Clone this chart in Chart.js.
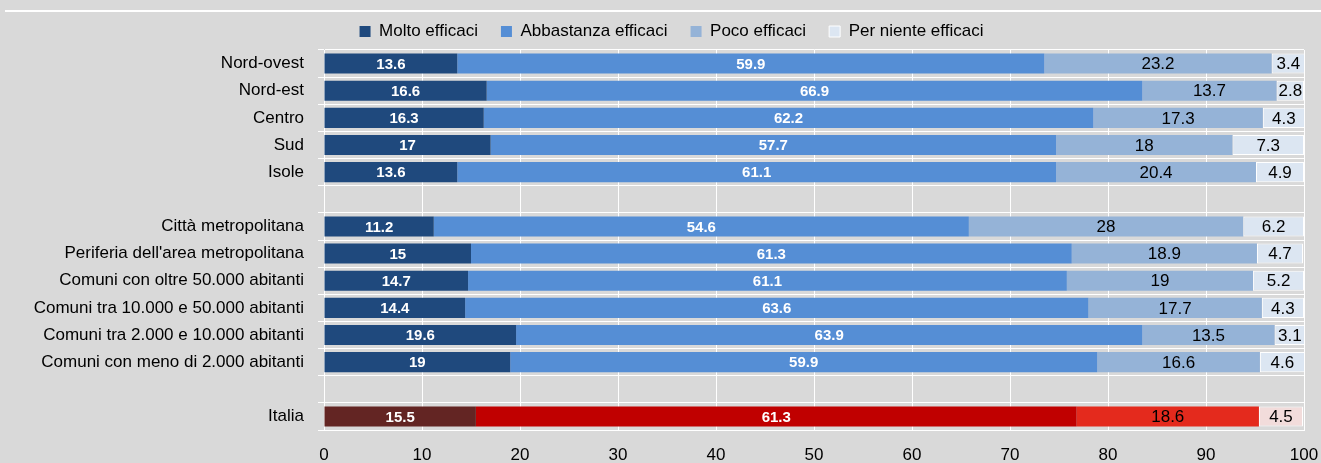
<!DOCTYPE html>
<html>
<head>
<meta charset="utf-8">
<script src="https://cdn.jsdelivr.net/npm/chart.js@4/dist/chart.umd.min.js"></script>
<style>
  body { margin: 0; background: #d9d9d9; }
  canvas { display: block; }
</style>
</head>
<body>
<canvas id="grafico" width="1321" height="463"></canvas>
<script>
// categorie (le righe vuote fanno da separatore)
const categories = ['Nord-ovest', 'Nord-est', 'Centro', 'Sud', 'Isole', '',
  'Città metropolitana', "Periferia dell'area metropolitana",
  'Comuni con oltre 50.000 abitanti', 'Comuni tra 10.000 e 50.000 abitanti',
  'Comuni tra 2.000 e 10.000 abitanti', 'Comuni con meno di 2.000 abitanti', ' ',
  'Italia'];
const seriesNames = ['Molto efficaci', 'Abbastanza efficaci', 'Poco efficaci', 'Per niente efficaci'];
const molto      = [13.6, 16.6, 16.3, 17, 13.6, null, 11.2, 15, 14.7, 14.4, 19.6, 19, null, 15.5];
const abbastanza = [59.9, 66.9, 62.2, 57.7, 61.1, null, 54.6, 61.3, 61.1, 63.6, 63.9, 59.9, null, 61.3];
const poco       = [23.2, 13.7, 17.3, 18, 20.4, null, 28, 18.9, 19, 17.7, 13.5, 16.6, null, 18.6];
const perNiente  = [3.4, 2.8, 4.3, 7.3, 4.9, null, 6.2, 4.7, 5.2, 4.3, 3.1, 4.6, null, 4.5];
const xTicks = [0, 10, 20, 30, 40, 50, 60, 70, 80, 90, 100];

const blu  = ['#1f497d', '#558ed5', '#95b3d7', '#dce6f2'];
const rossi = ['#632523', '#c00000', '#e42a1d', '#f2dcdb'];

// controllo se c'è il font narrow, altrimenti uso Liberation Sans più piccolo
function hasFont(name) {
  const c = document.createElement('canvas').getContext('2d');
  c.font = '40px monospace';
  const a = c.measureText('abcdefghij 0123456789').width;
  c.font = "40px '" + name + "', monospace";
  const b = c.measureText('abcdefghij 0123456789').width;
  return a !== b;
}
const narrow = hasFont('Liberation Sans Narrow');
const family = narrow ? "'Liberation Sans Narrow', 'Liberation Sans', Arial, sans-serif" : "'Liberation Sans', Arial, sans-serif";
const k = narrow ? 1 : 0.83;

Chart.defaults.font.family = family;
Chart.defaults.color = '#000';

function colori(i) {
  return categories.map((c, j) => c === 'Italia' ? rossi[i] : blu[i]);
}

// etichette dei valori dentro le barre
const etichette = {
  id: 'etichette',
  afterLayout(chart) {
    // sposto la legenda per centrarla come nell'originale
    chart.legend.left += 17;
    chart.legend.right += 17;
  },
  beforeDraw(chart) {
    // linea bianca in alto
    const ctx = chart.ctx;
    ctx.save();
    ctx.fillStyle = '#fff';
    ctx.fillRect(5, 10, chart.width - 5, 2);
    ctx.restore();
  },
  afterDatasetsDraw(chart) {
    const ctx = chart.ctx;
    chart.data.datasets.forEach(function (ds, i) {
      const meta = chart.getDatasetMeta(i);
      meta.data.forEach(function (bar, j) {
        const v = ds.data[j];
        if (v == null) return;
        ctx.save();
        ctx.font = i < 2 ? 'bold ' + Math.round(18 * k) + 'px ' + family : Math.round(21 * k) + 'px ' + family;
        ctx.fillStyle = i < 2 ? '#fff' : '#000';
        ctx.textAlign = 'center';
        ctx.textBaseline = 'middle';
        ctx.fillText(String(v), (bar.x + bar.base) / 2, bar.y + 1);
        ctx.restore();
      });
    });
  }
};

const valori = [molto, abbastanza, poco, perNiente];
const datasets = valori.map(function (d, i) {
  return {
    label: seriesNames[i],
    data: d,
    backgroundColor: colori(i),
    borderColor: '#ffffff',
    borderWidth: i === 3 ? 1 : 0,
    borderSkipped: false,
    barPercentage: 0.74,
    categoryPercentage: 1
  };
});

new Chart(document.getElementById('grafico'), {
  type: 'bar',
  data: { labels: categories, datasets: datasets },
  options: {
    indexAxis: 'y',
    responsive: false,
    animation: false,
    layout: { padding: { left: 5, right: 17, top: 0, bottom: 0 } },
    plugins: {
      legend: {
        position: 'top',
        labels: {
          boxWidth: 11,
          boxHeight: 11,
          padding: 23,
          font: { size: Math.round(21 * k) }
        }
      },
      tooltip: { enabled: false }
    },
    scales: {
      x: {
        stacked: true,
        min: 0,
        max: 100,
        afterBuildTicks: function (scale) {
          scale.ticks = xTicks.map(v => ({ value: v }));
        },
        afterFit: function (scale) {
          scale.height = 33;
          scale.paddingLeft = 0;
          scale.paddingRight = 0;
        },
        grid: { color: '#ffffff', lineWidth: 1, drawTicks: false },
        border: { color: '#ffffff' },
        ticks: { padding: 15, font: { size: Math.round(20 * k) } }
      },
      y: {
        stacked: true,
        afterFit: function (scale) { scale.width = 324 - 5; },
        grid: { color: '#ffffff', lineWidth: 1, tickLength: 6, offset: true },
        border: { color: '#ffffff', width: 1 },
        ticks: { padding: 14, autoSkip: false, font: { size: Math.round(21 * k) } }
      }
    }
  },
  plugins: [etichette]
});
</script>
</body>
</html>
